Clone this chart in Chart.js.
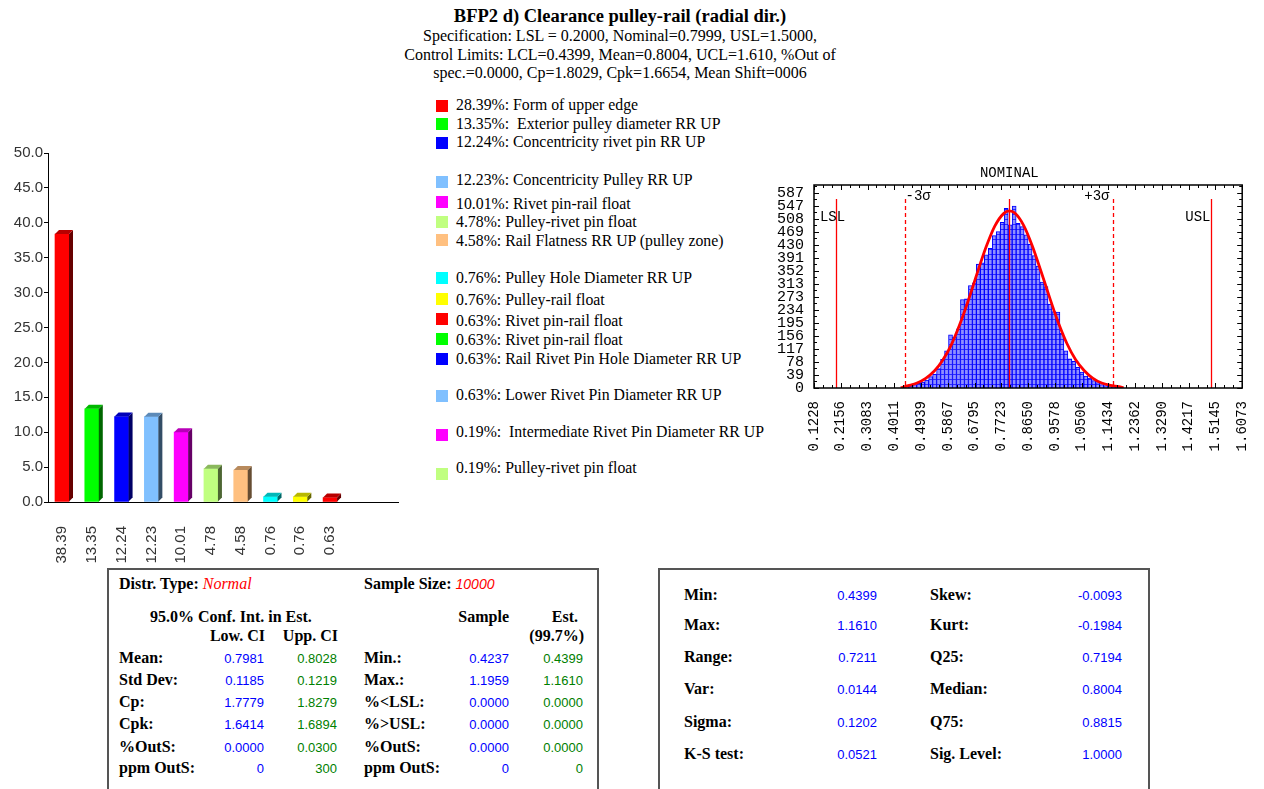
<!DOCTYPE html>
<html>
<head>
<meta charset="utf-8">
<title>BFP2 d) Clearance pulley-rail (radial dir.)</title>
<script src="https://cdn.jsdelivr.net/npm/chart.js@4.4.1/dist/chart.umd.min.js"></script>
<style>
  html, body { margin: 0; padding: 0; background: #fff; }
  body { width: 1264px; height: 789px; position: relative; overflow: hidden;
         font-family: "Liberation Serif", "Times New Roman", serif; color: #000; }
  canvas { position: absolute; }
  #pareto { left: 0; top: 140px; }
  #hist { left: 770px; top: 160px; }
  #head { position: absolute; left: 0; top: 5px; width: 1240px; text-align: center; }
  #head .main { font-weight: bold; font-size: 18.5px; line-height: 22px; }
  #head .sub { font-size: 16px; line-height: 18.5px; }
  .t { position: absolute; white-space: pre; line-height: 18px; }
  .leg { font-size: 15.8px; }
  .sq { position: absolute; width: 12px; height: 12px; }
  .box { position: absolute; border: 2px solid #555; background: #fff; }
  .lbl { font: bold 16px "Liberation Serif", serif; }
  .num { font: 13px "Liberation Sans", Arial, sans-serif; }
</style>
</head>
<body>
<div id="head">
  <div class="main">BFP2 d) Clearance pulley-rail (radial dir.)</div>
  <div class="sub">Specification: LSL = 0.2000, Nominal=0.7999, USL=1.5000,<br>Control Limits: LCL=0.4399, Mean=0.8004, UCL=1.610, %Out of<br>spec.=0.0000, Cp=1.8029, Cpk=1.6654, Mean Shift=0006</div>
</div>

<canvas id="pareto" width="400" height="430"></canvas>
<canvas id="hist" width="494" height="300"></canvas>

<div class="box" style="left:107px; top:568px; width:488px; height:240px;"></div>
<div class="box" style="left:658px; top:568px; width:488px; height:240px;"></div>

<script>
// ---- pareto bars ----
const paretoLabels = ['38.39', '13.35', '12.24', '12.23', '10.01', '4.78', '4.58', '0.76', '0.76', '0.63'];
const paretoValues = [38.39, 13.35, 12.24, 12.23, 10.01, 4.78, 4.58, 0.76, 0.76, 0.63];
const paretoColors = ['#ff0000', '#00ff00', '#0000ff', '#80c0ff', '#ff00ff', '#c0ff80', '#ffc080', '#00ffff', '#ffff00', '#ff0000'];

// ---- legend ----
const legendLabels = [
  '28.39%: Form of upper edge',
  '13.35%:  Exterior pulley diameter RR UP',
  '12.24%: Concentricity rivet pin RR UP',
  '12.23%: Concentricity Pulley RR UP',
  '10.01%: Rivet pin-rail float',
  '4.78%: Pulley-rivet pin float',
  '4.58%: Rail Flatness RR UP (pulley zone)',
  '0.76%: Pulley Hole Diameter RR UP',
  '0.76%: Pulley-rail float',
  '0.63%: Rivet pin-rail float',
  '0.63%: Rivet pin-rail float',
  '0.63%: Rail Rivet Pin Hole Diameter RR UP',
  '0.63%: Lower Rivet Pin Diameter RR UP',
  '0.19%:  Intermediate Rivet Pin Diameter RR UP',
  '0.19%: Pulley-rivet pin float'
];
const legendColors = ['#ff0000', '#00ff00', '#0000ff', '#80c0ff', '#ff00ff', '#c0ff80', '#ffc080',
  '#00ffff', '#ffff00', '#ff0000', '#00ff00', '#0000ff', '#80c0ff', '#ff00ff', '#c0ff80'];

// ---- histogram ----
const binStart = 0.4237;
const binWidth = 0.01379;
const histCounts = [2, 4, 6, 10, 14, 18, 24, 34, 42, 58, 86, 112, 160, 152, 178, 266, 268, 308, 316, 372,
  376, 400, 420, 458, 470, 498, 540, 490, 547, 495, 485, 460, 432, 398, 366, 318, 305, 252, 230, 228,
  165, 112, 88, 80, 62, 48, 36, 30, 22, 16, 10, 7, 4, 3, 2, 1];
const curveX = [0.4237, 0.45, 0.48, 0.51, 0.54, 0.57, 0.60, 0.63, 0.66, 0.69, 0.72, 0.75, 0.78, 0.80,
  0.82, 0.85, 0.88, 0.91, 0.94, 0.97, 1.00, 1.03, 1.06, 1.09, 1.12, 1.15, 1.18, 1.1959];
const curveY = [1, 7, 15, 29, 51, 85, 132, 195, 269, 349, 425, 487, 524, 532,
  525, 488, 426, 350, 271, 196, 133, 85, 52, 29, 15, 8, 4, 1];
const histXTicks = [0.1228, 0.2156, 0.3083, 0.4011, 0.4939, 0.5867, 0.6795, 0.7723, 0.8650, 0.9578,
  1.0506, 1.1434, 1.2362, 1.3290, 1.4217, 1.5145, 1.6073];
const histYTicks = [0, 39, 78, 117, 156, 195, 234, 273, 313, 352, 391, 430, 469, 508, 547, 587];
const LSL = 0.2, USL = 1.5, NOMINAL = 0.7999, LCL = 0.4399, UCL = 1.161, MEAN = 0.8004;

// ---- tables ----
const ciRows = ['Mean:', 'Std Dev:', 'Cp:', 'Cpk:', '%OutS:', 'ppm OutS:'];
const ciLow = ['0.7981', '0.1185', '1.7779', '1.6414', '0.0000', '0'];
const ciUpp = ['0.8028', '0.1219', '1.8279', '1.6894', '0.0300', '300'];
const sampleRows = ['Min.:', 'Max.:', '%<LSL:', '%>USL:', '%OutS:', 'ppm OutS:'];
const sampleVals = ['0.4237', '1.1959', '0.0000', '0.0000', '0.0000', '0'];
const estVals = ['0.4399', '1.1610', '0.0000', '0.0000', '0.0000', '0'];
const statRowsA = ['Min:', 'Max:', 'Range:', 'Var:', 'Sigma:', 'K-S test:'];
const statValsA = ['0.4399', '1.1610', '0.7211', '0.0144', '0.1202', '0.0521'];
const statRowsB = ['Skew:', 'Kurt:', 'Q25:', 'Median:', 'Q75:', 'Sig. Level:'];
const statValsB = ['-0.0093', '-0.1984', '0.7194', '0.8004', '0.8815', '1.0000'];

function put(html, x, y, cls, color, align) {
  const d = document.createElement('div');
  d.className = 't ' + cls;
  d.innerHTML = html;
  d.style.left = x + 'px';
  d.style.top = y + 'px';
  d.style.transform = align === 'right' ? 'translate(-100%,-50%)' : 'translate(0,-50%)';
  if (color) d.style.color = color;
  document.body.appendChild(d);
}
const esc = s => s.replace(/&/g, '&amp;').replace(/</g, '&lt;').replace(/>/g, '&gt;');

// legend
const legendY = [105, 124, 142, 180, 204, 222, 241, 278, 300, 321, 340, 359, 395, 432, 468];
const legendSq = [100, 118, 137, 176, 196, 216, 234, 272, 293, 313, 333, 353, 390, 429, 468];
legendLabels.forEach((txt, i) => {
  const s = document.createElement('div');
  s.className = 'sq';
  s.style.left = '436px';
  s.style.top = legendSq[i] + 'px';
  s.style.background = legendColors[i];
  document.body.appendChild(s);
  put(esc(txt), 456, legendY[i], 'leg');
});

// left table
const BLUE = '#0000ff', GREEN = '#008000';
put('Distr. Type: <span style="color:#ff0000;font-weight:normal;font-style:italic">Normal</span>', 119, 584, 'lbl');
put('Sample Size: <span style="color:#ff0000;font-weight:normal;font-style:italic;font-family:Liberation Sans;font-size:14px">10000</span>', 364, 584, 'lbl');
put('95.0% Conf. Int. in Est.', 150, 617, 'lbl');
put('Sample', 509, 617, 'lbl', null, 'right');
put('Est.', 578, 617, 'lbl', null, 'right');
put('Low. CI', 265, 636, 'lbl', null, 'right');
put('Upp. CI', 338, 636, 'lbl', null, 'right');
put('(99.7%)', 584, 636, 'lbl', null, 'right');
const leftRowY = [658, 680, 702, 724, 747, 768];
ciRows.forEach((r, i) => {
  put(esc(r), 119, leftRowY[i], 'lbl');
  put(ciLow[i], 264, leftRowY[i], 'num', BLUE, 'right');
  put(ciUpp[i], 337, leftRowY[i], 'num', GREEN, 'right');
  put(esc(sampleRows[i]), 364, leftRowY[i], 'lbl');
  put(sampleVals[i], 509, leftRowY[i], 'num', BLUE, 'right');
  put(estVals[i], 583, leftRowY[i], 'num', GREEN, 'right');
});

// right table
const rightRowY = [595, 625, 657, 689, 722, 754];
statRowsA.forEach((r, i) => {
  put(esc(r), 684, rightRowY[i], 'lbl');
  put(statValsA[i], 877, rightRowY[i], 'num', BLUE, 'right');
  put(esc(statRowsB[i]), 930, rightRowY[i], 'lbl');
  put(statValsB[i], 1122, rightRowY[i], 'num', BLUE, 'right');
});

// ---- pareto chart ----
function shade(hex, f) {
  const n = parseInt(hex.slice(1), 16);
  const r = (n >> 16) & 255, g = (n >> 8) & 255, b = n & 255;
  return `rgb(${Math.round(r * f)},${Math.round(g * f)},${Math.round(b * f)})`;
}

// fake 3d: side + top faces on each bar
const bar3d = {
  id: 'bar3d',
  afterDatasetsDraw(chart) {
    const ctx = chart.ctx;
    const d = 4;
    chart.getDatasetMeta(0).data.forEach((bar, i) => {
      const { x, y, base, width } = bar.getProps(['x', 'y', 'base', 'width'], true);
      const l = x - width / 2, r = x + width / 2;
      ctx.save();
      ctx.fillStyle = shade(paretoColors[i], 0.4);
      ctx.beginPath();
      ctx.moveTo(r, y); ctx.lineTo(r + d, y - d); ctx.lineTo(r + d, base - d); ctx.lineTo(r, base);
      ctx.closePath(); ctx.fill();
      ctx.fillStyle = shade(paretoColors[i], 0.72);
      ctx.beginPath();
      ctx.moveTo(l, y); ctx.lineTo(l + d, y - d); ctx.lineTo(r + d, y - d); ctx.lineTo(r, y);
      ctx.closePath(); ctx.fill();
      ctx.restore();
    });
  }
};

new Chart(document.getElementById('pareto'), {
  type: 'bar',
  data: {
    datasets: [{
      data: paretoValues.map((v, i) => ({ x: i, y: v })),
      backgroundColor: paretoColors,
      barThickness: 14
    }]
  },
  options: {
    responsive: false,
    animation: false,
    layout: { padding: { top: 13, right: 2, left: 0, bottom: 0 } },
    plugins: { legend: { display: false }, tooltip: { enabled: false } },
    scales: {
      x: {
        type: 'linear', min: -0.47, max: 11.28, offset: false,
        afterBuildTicks: s => { s.ticks = paretoLabels.map((_, i) => ({ value: i })); },
        afterFit: s => { s.height = 68; },
        ticks: {
          callback: v => paretoLabels[v], minRotation: 90, maxRotation: 90, autoSkip: false,
          padding: 16, color: '#333', font: { family: '"Liberation Sans", Arial', size: 15 }
        },
        grid: { display: false },
        border: { color: '#000', width: 1 }
      },
      y: {
        min: 0, max: 50,
        afterFit: s => { s.width = 48; },
        ticks: {
          stepSize: 5, callback: v => v.toFixed(1), padding: 1,
          color: '#333', font: { family: '"Liberation Sans", Arial', size: 15 }
        },
        grid: { drawOnChartArea: false, tickLength: 4, color: '#000' },
        border: { color: '#000', width: 1 }
      }
    }
  },
  plugins: [bar3d]
});

// ---- histogram chart ----
const MONO = '"Liberation Mono", "DejaVu Sans Mono", monospace';

// light bar interior with darker horizontal dashes, as in the source
function stripePattern() {
  const c = document.createElement('canvas');
  c.width = 4; c.height = 5;
  const g = c.getContext('2d');
  g.fillStyle = '#8f8fff'; g.fillRect(0, 0, 4, 5);
  g.fillStyle = '#2a2aff'; g.fillRect(0, 4, 4, 1);
  return g.createPattern(c, 'repeat');
}

const histDeco = {
  id: 'histDeco',
  afterDatasetsDraw(chart) {
    const { ctx, chartArea: a, scales: { x, y } } = chart;
    ctx.save();
    const lineTop = a.top + 14;
    const vline = (v, dash) => {
      const px = Math.round(x.getPixelForValue(v)) + 0.5;
      ctx.setLineDash(dash);
      ctx.lineWidth = 1.3;
      ctx.strokeStyle = '#ff0000';
      ctx.beginPath(); ctx.moveTo(px, lineTop); ctx.lineTo(px, a.bottom); ctx.stroke();
      return px;
    };
    const lslPx = vline(LSL, []);
    const uslPx = vline(USL, []);
    const lclPx = vline(LCL, [4, 3]);
    const uclPx = vline(UCL, [4, 3]);
    vline(MEAN, []);
    ctx.setLineDash([]);

    // frame and inward ticks
    ctx.strokeStyle = '#000';
    ctx.lineWidth = 1.5;
    ctx.strokeRect(a.left, a.top, a.width, a.height);
    ctx.lineWidth = 1;
    ctx.beginPath();
    const xMin = histXTicks[0], xMax = histXTicks[histXTicks.length - 1];
    const xSub = (xMax - xMin) / ((histXTicks.length - 1) * 3);
    for (let k = 0; k <= (histXTicks.length - 1) * 3; k++) {
      const px = Math.round(x.getPixelForValue(xMin + k * xSub)) + 0.5;
      const len = k % 3 === 0 ? 5 : 3;
      ctx.moveTo(px, a.bottom); ctx.lineTo(px, a.bottom - len);
      ctx.moveTo(px, a.top); ctx.lineTo(px, a.top + len);
    }
    const ySub = histYTicks[histYTicks.length - 1] / ((histYTicks.length - 1) * 2);
    for (let k = 0; k * ySub <= y.max; k++) {
      const py = Math.round(y.getPixelForValue(k * ySub)) + 0.5;
      const len = k % 2 === 0 ? 5 : 3;
      ctx.moveTo(a.left, py); ctx.lineTo(a.left + len, py);
      ctx.moveTo(a.right, py); ctx.lineTo(a.right - len, py);
    }
    ctx.stroke();

    // labels
    ctx.fillStyle = '#000';
    ctx.font = '14px ' + MONO;
    ctx.textBaseline = 'middle';
    ctx.textAlign = 'center';
    ctx.fillText('NOMINAL', x.getPixelForValue(NOMINAL), a.top - 12);
    ctx.fillText('LSL', lslPx - 4, a.top + 32);
    ctx.textAlign = 'right';
    ctx.fillText('USL', uslPx - 1, a.top + 32);
    ctx.fillText('+3σ', uclPx - 4, a.top + 11);
    ctx.textAlign = 'left';
    ctx.fillText('-3σ', lclPx, a.top + 11);
    ctx.restore();
  }
};

new Chart(document.getElementById('hist'), {
  type: 'bar',
  data: {
    datasets: [
      {
        type: 'bar', order: 2,
        data: histCounts.map((c, i) => ({ x: binStart + binWidth * (i + 0.5), y: c })),
        backgroundColor: stripePattern(), borderColor: '#0000ff', borderWidth: 1, barThickness: 4
      },
      {
        type: 'line', order: 1,
        data: curveX.map((v, i) => ({ x: v, y: curveY[i] })),
        borderColor: '#ff0000', borderWidth: 2.8, pointRadius: 0,
        cubicInterpolationMode: 'monotone', fill: false
      }
    ]
  },
  options: {
    responsive: false,
    animation: false,
    layout: { padding: { top: 25, right: 15, left: 0, bottom: 0 } },
    plugins: { legend: { display: false }, tooltip: { enabled: false } },
    scales: {
      x: {
        type: 'linear', min: 0.1228, max: 1.6073, offset: false,
        afterBuildTicks: s => { s.ticks = histXTicks.map(v => ({ value: v })); },
        afterFit: s => { s.height = 72; },
        ticks: {
          callback: (v, i) => histXTicks[i].toFixed(4), minRotation: 90, maxRotation: 90,
          autoSkip: false, padding: 5, color: '#000', font: { family: MONO, size: 14 }
        },
        grid: { display: false },
        border: { display: false }
      },
      y: {
        min: 0, max: 610,
        afterBuildTicks: s => { s.ticks = histYTicks.map(v => ({ value: v })); },
        afterFit: s => { s.width = 44; },
        ticks: {
          callback: v => String(v), autoSkip: false, padding: 2,
          color: '#000', font: { family: MONO, size: 15 }
        },
        grid: { display: false },
        border: { display: false }
      }
    }
  },
  plugins: [histDeco]
});
</script>
</body>
</html>
